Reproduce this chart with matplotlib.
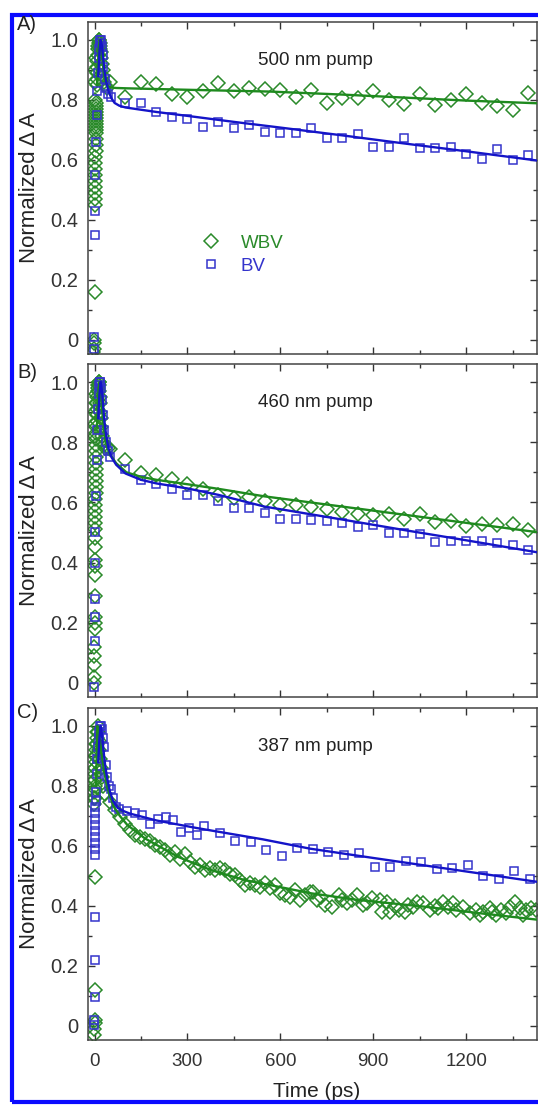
import numpy as np
import matplotlib
matplotlib.use("Agg")
import matplotlib.pyplot as plt
from matplotlib.ticker import MultipleLocator, FuncFormatter
from matplotlib.lines import Line2D
from matplotlib.patches import Rectangle

plt.rcParams['font.family'] = ['Liberation Sans', 'DejaVu Sans']

GREEN = '#2a8a2a'
GREEN_LINE = '#1e8a1e'
BLUE = '#3434cc'
BLUE_LINE = '#1414c8'

# --- data, panel A (500 nm pump) ---
wbv_a_early = [(-4, -0.04), (-3, -0.03), (-2, -0.01), (-1, 0.0), (0, 0.16), (1, 0.45), (1, 0.47),
               (2, 0.49), (2, 0.51), (2, 0.53), (3, 0.55), (3, 0.57), (3, 0.59), (3, 0.61),
               (4, 0.63), (4, 0.65), (4, 0.67), (4, 0.69), (4, 0.70), (5, 0.71), (5, 0.72),
               (5, 0.73), (5, 0.74), (5, 0.75), (6, 0.76), (6, 0.77), (6, 0.78), (6, 0.79),
               (3, 0.80), (1, 0.86), (2, 0.90), (4, 0.94), (7, 0.85), (7, 0.87), (8, 0.89),
               (8, 0.91), (9, 0.93), (10, 0.95), (11, 0.97), (12, 0.98), (13, 0.99), (14, 1.0),
               (16, 1.0), (17, 0.99), (18, 0.98), (19, 0.97), (20, 0.96), (22, 0.94), (24, 0.92),
               (26, 0.90), (28, 0.88), (31, 0.86), (35, 0.85), (40, 0.84)]
wbv_a_t = [50, 100, 150, 200, 250, 300, 350, 400, 450, 500, 550, 600, 650, 700,
           750, 800, 850, 900, 950, 1000, 1050, 1100, 1150, 1200, 1250, 1300, 1350, 1400]
wbv_a_v = [0.86, 0.81, 0.86, 0.853, 0.82, 0.81, 0.83, 0.857, 0.83, 0.84, 0.837, 0.833, 0.81, 0.833,
           0.79, 0.808, 0.808, 0.831, 0.80, 0.787, 0.819, 0.783, 0.80, 0.819, 0.789, 0.78, 0.767, 0.824]
bv_a_early = [(-3, -0.03), (-1, 0.01), (0, 0.35), (1, 0.43), (3, 0.55), (5, 0.66), (7, 0.75),
              (9, 0.83), (11, 0.89), (13, 0.94), (15, 0.97), (17, 0.99), (19, 1.0), (21, 1.0),
              (23, 0.98), (26, 0.95), (29, 0.91), (33, 0.87), (38, 0.84), (44, 0.82), (52, 0.81)]
bv_a_t = [100, 150, 200, 250, 300, 350, 400, 450, 500, 550, 600, 650, 700, 750,
          800, 850, 900, 950, 1000, 1050, 1100, 1150, 1200, 1250, 1300, 1350, 1400]
bv_a_v = [0.79, 0.79, 0.761, 0.744, 0.737, 0.709, 0.728, 0.706, 0.717, 0.694, 0.689, 0.691, 0.706, 0.674,
          0.674, 0.686, 0.644, 0.644, 0.673, 0.641, 0.641, 0.644, 0.62, 0.602, 0.636, 0.60, 0.617]
wbv_a_fit_t = [8, 14, 18, 22, 26, 30, 35, 40, 50, 70, 100, 300, 568, 800, 1000, 1200, 1430]
wbv_a_fit_v = [0.85, 0.98, 1.0, 0.97, 0.93, 0.89, 0.865, 0.85, 0.842, 0.84, 0.839, 0.834, 0.828,
               0.818, 0.808, 0.798, 0.789]
bv_a_fit_t = [12, 16, 20, 24, 28, 32, 38, 45, 55, 65, 80, 100, 200, 300, 450, 600, 800, 1000, 1200, 1430]
bv_a_fit_v = [0.88, 0.96, 1.0, 0.98, 0.94, 0.9, 0.86, 0.83, 0.805, 0.79, 0.781, 0.775, 0.76, 0.747,
              0.727, 0.708, 0.682, 0.655, 0.629, 0.598]

# --- data, panel B (460 nm pump) ---
wbv_b_early = [(-3, 0.0), (-2, 0.02), (-2, 0.06), (-1, 0.09), (-1, 0.12), (0, 0.18), (0, 0.20),
               (0, 0.22), (1, 0.29), (1, 0.36), (1, 0.39), (2, 0.41), (2, 0.45), (2, 0.48),
               (2, 0.51), (3, 0.53), (3, 0.55), (3, 0.57), (3, 0.59), (3, 0.61), (4, 0.63),
               (4, 0.65), (4, 0.67), (4, 0.69), (4, 0.71), (5, 0.73), (5, 0.75), (5, 0.77),
               (5, 0.79), (6, 0.81), (6, 0.83), (6, 0.85), (1, 0.82), (2, 0.86), (3, 0.90),
               (4, 0.93), (5, 0.96), (7, 0.87), (7, 0.89), (8, 0.91), (8, 0.93), (9, 0.95),
               (10, 0.97), (11, 0.98), (12, 0.99), (13, 1.0), (14, 1.0), (15, 0.99), (16, 0.97),
               (17, 0.95), (18, 0.93), (19, 0.90), (20, 0.88), (22, 0.85), (24, 0.82), (27, 0.80),
               (30, 0.79), (35, 0.78), (42, 0.78)]
wbv_b_t = [50, 100, 150, 200, 250, 300, 350, 400, 450, 500, 550, 600, 650, 700,
           750, 800, 850, 900, 950, 1000, 1050, 1100, 1150, 1200, 1250, 1300, 1350, 1400]
wbv_b_v = [0.776, 0.74, 0.698, 0.69, 0.679, 0.66, 0.646, 0.623, 0.616, 0.618, 0.604, 0.59, 0.59, 0.584,
           0.579, 0.568, 0.562, 0.557, 0.560, 0.546, 0.560, 0.534, 0.538, 0.521, 0.529, 0.526, 0.529, 0.507]
bv_b_early = [(-2, -0.013), (0, 0.14), (0, 0.218), (1, 0.279), (2, 0.4), (3, 0.5), (5, 0.62),
              (7, 0.74), (9, 0.84), (11, 0.91), (13, 0.96), (15, 0.99), (17, 1.0), (19, 1.0),
              (21, 0.98), (24, 0.94), (27, 0.89), (31, 0.84), (36, 0.80), (42, 0.77), (50, 0.75)]
bv_b_t = [100, 150, 200, 250, 300, 350, 400, 450, 500, 550, 600, 650, 700, 750,
          800, 850, 900, 950, 1000, 1050, 1100, 1150, 1200, 1250, 1300, 1350, 1400]
bv_b_v = [0.712, 0.675, 0.66, 0.645, 0.623, 0.623, 0.604, 0.581, 0.581, 0.564, 0.546, 0.546, 0.542, 0.537,
          0.531, 0.518, 0.526, 0.499, 0.499, 0.496, 0.468, 0.471, 0.473, 0.473, 0.464, 0.457, 0.442]
wbv_b_fit_t = [8, 13, 17, 21, 25, 30, 35, 40, 50, 70, 103, 150, 200, 302, 400, 549, 800, 1000, 1200, 1430]
wbv_b_fit_v = [0.85, 0.98, 1.0, 0.96, 0.9, 0.85, 0.81, 0.785, 0.76, 0.73, 0.70, 0.685, 0.675, 0.66,
               0.645, 0.62, 0.586, 0.559, 0.532, 0.501]
bv_b_fit_t = [12, 16, 20, 24, 28, 32, 38, 45, 55, 70, 100, 150, 200, 302, 400, 549, 800, 1000, 1200, 1430]
bv_b_fit_v = [0.88, 0.96, 1.0, 0.97, 0.92, 0.87, 0.82, 0.78, 0.75, 0.725, 0.696, 0.675, 0.663, 0.646,
              0.625, 0.586, 0.543, 0.508, 0.474, 0.434]

# --- data, panel C (387 nm pump) ---
wbv_c_early = [(-2, -0.03), (-1, -0.01), (0, 0.01), (0, 0.02), (1, 0.12), (1, 0.495),
               (-3, 0.74), (-2, 0.76), (-1, 0.78), (0, 0.80), (1, 0.82), (2, 0.84), (3, 0.86),
               (4, 0.88), (5, 0.90), (6, 0.92), (7, 0.94), (8, 0.96), (9, 0.98), (10, 1.0),
               (12, 0.98), (14, 0.95), (16, 0.92), (18, 0.89), (21, 0.86), (24, 0.83), (28, 0.80),
               (-2, 0.82), (0, 0.86), (2, 0.90), (4, 0.94), (1, 0.76), (3, 0.79)]
wbv_c_late = [(34, 0.774), (50, 0.746), (66, 0.72), (82, 0.696), (98, 0.673), (115, 0.652),
              (131, 0.635), (147, 0.63), (163, 0.624), (179, 0.618), (195, 0.602), (212, 0.596),
              (228, 0.585), (244, 0.569), (260, 0.58), (276, 0.558), (292, 0.574), (308, 0.547),
              (325, 0.53), (341, 0.536), (357, 0.519), (373, 0.525), (389, 0.519), (405, 0.525),
              (421, 0.519), (437, 0.508), (454, 0.503), (470, 0.486), (486, 0.47), (502, 0.475),
              (518, 0.47), (534, 0.464), (550, 0.475), (567, 0.459), (583, 0.47), (599, 0.442),
              (615, 0.436), (631, 0.431), (647, 0.453), (664, 0.42), (680, 0.436), (696, 0.447),
              (707, 0.447), (718, 0.42), (730, 0.43), (745, 0.403), (766, 0.398), (788, 0.437),
              (800, 0.42), (815, 0.409), (830, 0.42), (847, 0.437), (868, 0.403), (880, 0.41),
              (895, 0.425), (922, 0.42), (928, 0.381), (944, 0.414), (955, 0.381), (970, 0.40),
              (982, 0.386), (1003, 0.381), (1014, 0.403), (1030, 0.395), (1040, 0.414),
              (1062, 0.409), (1083, 0.386), (1100, 0.40), (1110, 0.392), (1126, 0.414),
              (1140, 0.395), (1158, 0.409), (1169, 0.386), (1190, 0.398), (1212, 0.376),
              (1233, 0.386), (1245, 0.37), (1255, 0.381), (1276, 0.392), (1285, 0.38),
              (1298, 0.37), (1314, 0.386), (1330, 0.375), (1341, 0.398), (1357, 0.414),
              (1373, 0.392), (1385, 0.37), (1395, 0.386), (1411, 0.392), (1427, 0.386)]
bv_c_early = [(-2, 0.003), (-1, 0.02), (0, 0.097), (0, 0.219), (0, 0.363), (1, 0.57), (1, 0.59),
              (1, 0.61), (2, 0.63), (2, 0.65), (2, 0.67), (3, 0.69), (3, 0.71), (3, 0.73),
              (4, 0.75), (5, 0.78), (7, 0.84), (9, 0.89), (11, 0.93), (13, 0.96), (15, 0.98),
              (17, 1.0), (20, 1.0), (23, 0.99), (27, 0.96), (31, 0.93), (36, 0.87), (41, 0.83),
              (47, 0.80), (52, 0.79), (60, 0.76), (68, 0.73)]
bv_c_t = [80, 105, 130, 155, 180, 205, 230, 255, 280, 305, 330, 355, 405, 455, 505, 555, 605,
          655, 705, 755, 805, 855, 905, 955, 1005, 1055, 1105, 1155, 1205, 1255, 1305, 1355, 1405]
bv_c_v = [0.724, 0.718, 0.711, 0.704, 0.674, 0.691, 0.698, 0.685, 0.646, 0.661, 0.635, 0.665, 0.644,
          0.616, 0.613, 0.588, 0.566, 0.593, 0.589, 0.58, 0.569, 0.575, 0.53, 0.53, 0.549, 0.545,
          0.522, 0.528, 0.536, 0.50, 0.489, 0.516, 0.49]
wbv_c_fit_t = [5, 9, 13, 18, 24, 31, 40, 50, 63, 82, 106, 163, 271, 378, 486, 594, 700, 850,
               1062, 1250, 1432]
wbv_c_fit_v = [0.8, 1.0, 0.99, 0.95, 0.9, 0.85, 0.8, 0.765, 0.73, 0.70, 0.67, 0.625, 0.563,
               0.519, 0.486, 0.464, 0.442, 0.42, 0.398, 0.375, 0.354]
bv_c_fit_t = [12, 16, 20, 24, 28, 33, 40, 50, 60, 75, 90, 114, 200, 329, 544, 696, 900, 1100,
              1300, 1432]
bv_c_fit_v = [0.88, 0.96, 1.0, 0.97, 0.93, 0.88, 0.83, 0.78, 0.75, 0.727, 0.718, 0.708, 0.685,
              0.66, 0.622, 0.591, 0.56, 0.53, 0.50, 0.48]

panels = [
    ("A)", "500 nm pump", wbv_a_early, list(zip(wbv_a_t, wbv_a_v)), bv_a_early, list(zip(bv_a_t, bv_a_v)),
     (wbv_a_fit_t, wbv_a_fit_v), (bv_a_fit_t, bv_a_fit_v)),
    ("B)", "460 nm pump", wbv_b_early, list(zip(wbv_b_t, wbv_b_v)), bv_b_early, list(zip(bv_b_t, bv_b_v)),
     (wbv_b_fit_t, wbv_b_fit_v), (bv_b_fit_t, bv_b_fit_v)),
    ("C)", "387 nm pump", wbv_c_early, wbv_c_late, bv_c_early, list(zip(bv_c_t, bv_c_v)),
     (wbv_c_fit_t, wbv_c_fit_v), (bv_c_fit_t, bv_c_fit_v)),
]

W, H = 538, 1107
fig = plt.figure(figsize=(W / 100, H / 100), dpi=100)

# axes boxes in pixels: (top, bottom)
boxes = [(22, 354), (364, 697), (708, 1040)]
ax_left, ax_right = 88, 537
label_y = [25, 372, 713]

D_MS, S_MS = 7.0, 5.8

axes = []
for i, (tag, title, we, wl, be, bl, wfit, bfit) in enumerate(panels):
    top, bot = boxes[i]
    ax = fig.add_axes([ax_left / W, 1 - bot / H, (ax_right - ax_left) / W, (bot - top) / H])
    axes.append(ax)

    wt, wv = zip(*(we + wl))
    bt, bv = zip(*(be + bl))
    ax.plot(wt, wv, ls='none', marker='D', ms=D_MS, mfc='none', mec=GREEN, mew=1.1, zorder=2)
    ax.plot(bt, bv, ls='none', marker='s', ms=S_MS, mfc='none', mec=BLUE, mew=1.1, zorder=2)
    ax.plot(wfit[0], wfit[1], color=GREEN_LINE, lw=1.7, zorder=3)
    ax.plot(bfit[0], bfit[1], color=BLUE_LINE, lw=1.7, zorder=4)

    ax.set_xlim(-21, 1429)
    ax.set_ylim(-0.047, 1.06)
    ax.xaxis.set_major_locator(MultipleLocator(300))
    ax.xaxis.set_minor_locator(MultipleLocator(150))
    ax.yaxis.set_major_locator(MultipleLocator(0.2))
    ax.yaxis.set_minor_locator(MultipleLocator(0.1))
    ax.yaxis.set_major_formatter(FuncFormatter(lambda v, p: '0' if abs(v) < 1e-9 else f'{v:.1f}'))
    ax.tick_params(which='both', direction='in', top=True, right=True, colors='#333333',
                   labelsize=14.5, width=1)
    ax.tick_params(which='major', length=5, pad=7)
    ax.tick_params(which='minor', length=3)
    ax.tick_params(axis='x', labelsize=13.5, pad=9)
    for sp in ax.spines.values():
        sp.set_color('#444444')
        sp.set_linewidth(1.1)
    if i < 2:
        ax.tick_params(axis='x', labelbottom=False)

    ax.set_ylabel('Normalized Δ A', fontsize=16, color='#222222')
    ax.yaxis.set_label_coords(-0.108, 0.5)
    ax.text(0.506, 0.885, title, transform=ax.transAxes, ha='center', va='center',
            fontsize=13.5, color='#222222')
    fig.text(17 / W, 1 - label_y[i] / H, tag, ha='left', va='center', fontsize=14.5, color='#222222')

axes[2].set_xlabel('Time (ps)', fontsize=15, color='#222222')
axes[2].xaxis.set_label_coords(0.51, -0.128)

handles = [Line2D([], [], ls='none', marker='D', ms=D_MS, mfc='none', mec=GREEN, mew=1.1),
           Line2D([], [], ls='none', marker='s', ms=S_MS, mfc='none', mec=BLUE, mew=1.1)]
axes[0].legend(handles, ['WBV', 'BV'], frameon=False, loc='upper left', bbox_to_anchor=(0.215, 0.41),
               handlelength=1.0, handletextpad=1.1, labelspacing=0.32, fontsize=13.5,
               labelcolor=[GREEN, BLUE])

# blue frame around the figure (right side is cropped in the original)
fig.add_artist(Rectangle((11.5 / W, 1 - 1102 / H), 2.0, (1102 - 15) / H, transform=fig.transFigure,
                         fill=False, edgecolor='#0b0bff', lw=3.0, clip_on=False))

fig.savefig('out.png', dpi=100)
